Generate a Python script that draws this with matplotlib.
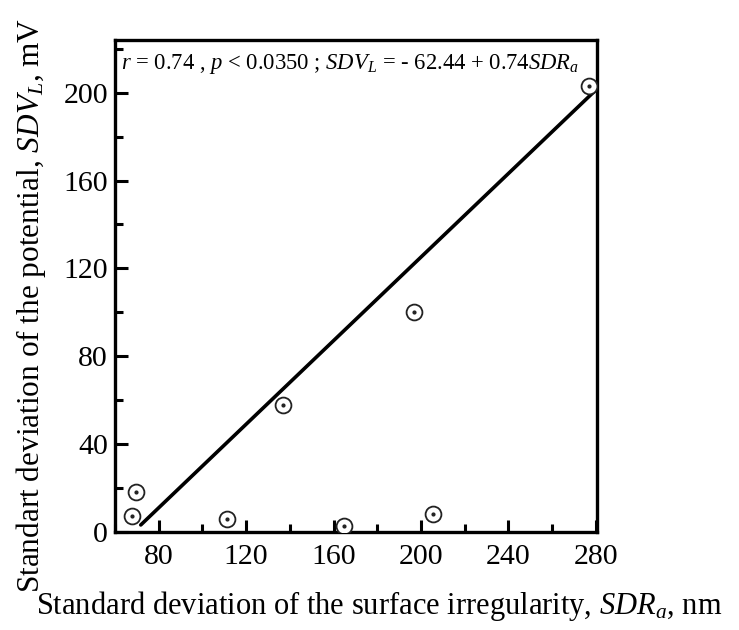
import numpy as np
import matplotlib
matplotlib.use("Agg")
import matplotlib.pyplot as plt
from matplotlib.ticker import MultipleLocator

# data
sdr_a = [67.6, 69.6, 111.4, 137.0, 164.6, 196.7, 205.7, 277.0]
sdv_l = [7.3, 18.4, 5.9, 57.7, 2.7, 100.0, 8.2, 203.0]
fit_x = [71.8, 279.7]
fit_y = [3.2, 200.9]

xticks = [80, 120, 160, 200, 240, 280]
yticks = [0, 40, 80, 120, 160, 200]

plt.rcParams['font.family'] = ['Liberation Serif', 'DejaVu Serif']
plt.rcParams['mathtext.fontset'] = 'custom'
plt.rcParams['mathtext.rm'] = 'Liberation Serif'
plt.rcParams['mathtext.it'] = 'Liberation Serif:italic'

fig = plt.figure(figsize=(7.39, 6.3), dpi=100)
ax = fig.add_axes([0.1556, 0.1556, 0.652, 0.781])

ax.plot(fit_x, fit_y, color='black', lw=2.6, solid_capstyle='round', zorder=2)
ax.scatter(sdr_a, sdv_l, s=130, facecolors='white', edgecolors='#222222', linewidths=1.3, zorder=3)
ax.scatter(sdr_a, sdv_l, s=4, color='#222222', zorder=4)

ax.set_xlim(60, 280.5)
ax.set_ylim(0, 224)
ax.set_xticks(xticks)
ax.set_yticks(yticks)
ax.xaxis.set_minor_locator(MultipleLocator(20))
ax.yaxis.set_minor_locator(MultipleLocator(20))
ax.tick_params(which='major', direction='in', length=9, width=2.2, labelsize=21.5)
ax.tick_params(axis='x', which='major', pad=9)
ax.tick_params(axis='y', which='major', pad=5)
ax.tick_params(which='minor', direction='in', length=5.5, width=2.2)
ax.tick_params(top=False, right=False)
for s in ax.spines.values():
    s.set_linewidth(2.4)

ax.set_xlabel(r'Standard deviation of the surface irregularity, $\mathit{SDR}_{\mathit{a}}$, nm',
              fontsize=22)
ax.set_ylabel(r'Standart deviation of the potential, $\mathit{SDV}_{\mathit{L}}$, mV',
              fontsize=22.5)
ax.xaxis.set_label_coords(0.548, -0.116)
ax.yaxis.set_label_coords(-0.14, 0.46)

ax.text(0.012, 0.975,
        r'$\mathit{r}$ = 0.74 , $\mathit{p}$ < 0.0350 ; $\mathit{SDV}_{\mathit{L}}$ = - 62.44 + 0.74$\mathit{SDR}_{\mathit{a}}$',
        transform=ax.transAxes, fontsize=16.3, va='top', ha='left')

fig.savefig('out.png', dpi=100)
